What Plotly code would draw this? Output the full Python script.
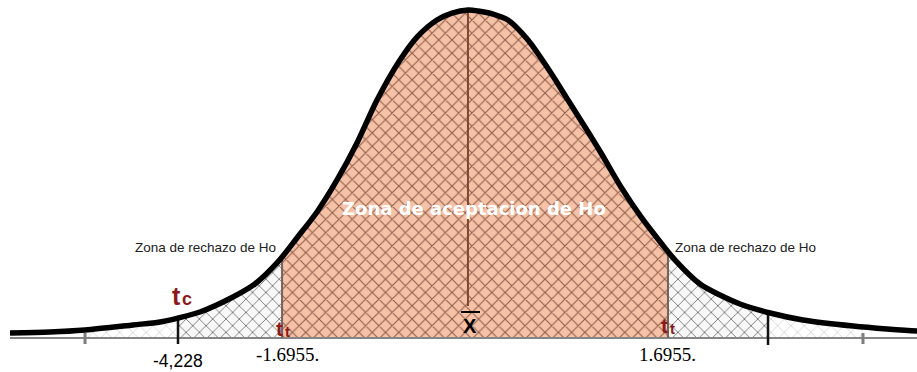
import numpy as np
import plotly.graph_objects as go

# ---- data (standardised position, relative density height) ----
curve_x = [-4.125, -3.768, -3.455, -3.027, -2.786, -2.625, -2.429, -2.134, -1.938,
           -1.741, -1.563, -1.384, -1.205, -1.027, -0.848, -0.643, -0.491, -0.313,
           -0.179, -0.036, 0.054, 0.188, 0.321, 0.500, 0.705, 0.857, 1.009, 1.152,
           1.330, 1.509, 1.688, 1.813, 2.036, 2.214, 2.393, 2.661, 2.955, 3.402,
           3.705, 3.973, 4.050]
curve_y = [0.0061, 0.0073, 0.0098, 0.0159, 0.0195, 0.0244, 0.0317, 0.0500, 0.0659,
           0.0915, 0.1220, 0.1537, 0.1927, 0.2378, 0.2902, 0.3390, 0.3670, 0.3878,
           0.3963, 0.4000, 0.3988, 0.3951, 0.3878, 0.3634, 0.3232, 0.2902, 0.2573,
           0.2256, 0.1841, 0.1476, 0.1159, 0.0951, 0.0659, 0.0524, 0.0415, 0.0305,
           0.0220, 0.0146, 0.0110, 0.0085, 0.0082]

mean_pos = -0.036
tc_pos = -2.625            # t calculado
tt_pos = [-1.696, 1.750]   # t tabla (left, right)
right_mark_pos = 2.643
outer_ticks = [-3.455, 3.491]

tc_label = "-4,228"
tt_labels = ["-1.6955.", "1.6955."]

# ---- helpers for layout placement (pixel -> axis units) ----
def X(px):
    return (px - 472) / 112.0

def Y(py):
    return (338 - py) * 0.4 / 328.0

def curve_at(x):
    return float(np.interp(x, curve_x, curve_y))

def region(a, b):
    xs = np.linspace(a, b, 160)
    ys = np.interp(xs, curve_x, curve_y)
    return [a] + list(xs) + [b], [0] + list(ys) + [0]

fig = go.Figure()

def add_fill(a, b, bg, fg, fgop, sol):
    xs, ys = region(a, b)
    fig.add_trace(go.Scatter(
        x=xs, y=ys, mode="lines", fill="toself", line=dict(width=0),
        fillcolor=bg,
        fillpattern=dict(shape="x", bgcolor=bg, fgcolor=fg, fgopacity=fgop,
                         size=9.4, solidity=sol),
        hoverinfo="skip", showlegend=False))

# acceptance zone
add_fill(tt_pos[0], tt_pos[1], "#F5C2A8", "#7e4a36", 0.85, 0.22)
# rejection zones (dense hatch)
add_fill(tc_pos, tt_pos[0], "#f8f8f8", "#4a4a4a", 0.85, 0.16)
add_fill(tt_pos[1], right_mark_pos, "#f8f8f8", "#4a4a4a", 0.85, 0.16)
# faint hatch further out
add_fill(outer_ticks[0], tc_pos, "#ffffff", "#c4c4c4", 0.8, 0.16)
add_fill(right_mark_pos, outer_ticks[1], "#ffffff", "#c4c4c4", 0.8, 0.16)

def vline(x, y0, y1, color, width):
    fig.add_trace(go.Scatter(x=[x, x], y=[y0, y1], mode="lines",
                             line=dict(color=color, width=width),
                             hoverinfo="skip", showlegend=False))

# baseline
fig.add_trace(go.Scatter(x=[curve_x[0], curve_x[-1]], y=[0, 0], mode="lines",
                         line=dict(color="#858585", width=2),
                         hoverinfo="skip", showlegend=False))

# vertical lines
vline(mean_pos, Y(306), curve_at(mean_pos), "#7a4a34", 2)
vline(tt_pos[0], 0, curve_at(tt_pos[0]), "#75625a", 2)
vline(tt_pos[1], 0, curve_at(tt_pos[1]), "#75625a", 2)
vline(tc_pos, Y(344), curve_at(tc_pos), "#111111", 2.5)
vline(right_mark_pos, Y(345), curve_at(right_mark_pos), "#111111", 2.5)
for t in outer_ticks:
    vline(t, Y(344), Y(333), "#7d7d7d", 3)

# the curve
fig.add_trace(go.Scatter(x=curve_x, y=curve_y, mode="lines",
                         line=dict(color="#000000", width=5.5, shape="spline", smoothing=0.8),
                         hoverinfo="skip", showlegend=False))

ann = []
def text(px, py, s, size, color="#000", family="Liberation Sans, Arial", xanchor="center"):
    ann.append(dict(x=X(px), y=Y(py), text=s, showarrow=False, xanchor=xanchor,
                    yanchor="middle", font=dict(size=size, color=color, family=family)))

text(205, 247, "Zona de rechazo de Ho", 13.5, "#222222")
text(745, 247, "Zona de rechazo de Ho", 13.5, "#222222")
text(474, 208, "<b>Zona de aceptacion de Ho</b>", 18, "#ffffff", "DejaVu Sans")

red = "#8B1A1A"
text(176, 296, "<b>t</b>", 25, red)
text(187, 299, "<b>c</b>", 18, red)
text(279, 328, "<b>t</b>", 21, red)
text(287, 331, "<b>t</b>", 15, red)
text(664, 325, "<b>t</b>", 21, red)
text(672, 328, "<b>t</b>", 15, red)

# X bar
text(470, 326, "<b>X</b>", 20, "#000000")
fig.add_shape(type="line", x0=X(461), x1=X(480), y0=Y(312), y1=Y(312),
              line=dict(color="#000000", width=2))

# tick labels
ann.append(dict(x=tc_pos, y=Y(361), text=tc_label, showarrow=False, yanchor="middle",
                font=dict(size=17.5, color="#000", family="Liberation Sans, Arial")))
ann.append(dict(x=tt_pos[0] + X(287) - X(282), y=Y(354), text=tt_labels[0], showarrow=False,
                yanchor="middle",
                font=dict(size=19, color="#000", family="Liberation Serif, Times New Roman")))
ann.append(dict(x=tt_pos[1] - X(668) + X(667), y=Y(354), text=tt_labels[1], showarrow=False,
                yanchor="middle",
                font=dict(size=19, color="#000", family="Liberation Serif, Times New Roman")))

fig.update_layout(
    width=917, height=372, margin=dict(l=0, r=0, t=0, b=0),
    paper_bgcolor="#ffffff", plot_bgcolor="#ffffff",
    xaxis=dict(range=[X(0), X(917)], visible=False, fixedrange=True),
    yaxis=dict(range=[Y(372), Y(0)], visible=False, fixedrange=True),
    annotations=ann, showlegend=False,
)

fig.write_html("out.html", config={"displayModeBar": False},
               post_script="document.body.style.margin='0';document.body.style.padding='0';"
                           "document.body.style.overflow='hidden';")
